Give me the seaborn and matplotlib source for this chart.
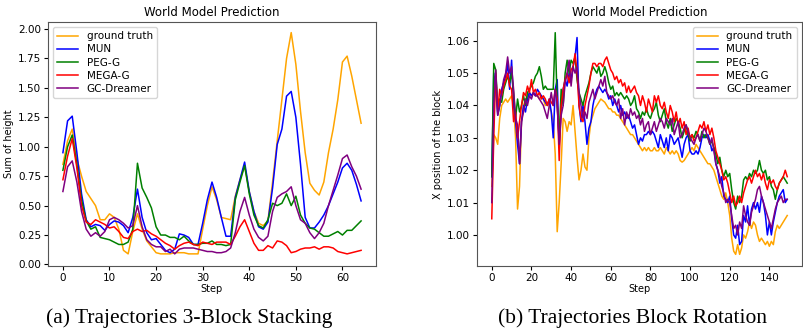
import numpy as np
import pandas as pd
import seaborn as sns
import matplotlib.pyplot as plt

names = ["ground truth", "MUN", "PEG-G", "MEGA-G", "GC-Dreamer"]
colors = ["orange", "blue", "green", "red", "purple"]

# (a) 3-block stacking, steps 0..64
stack_gt = [0.85, 1.05, 1.15, 0.90, 0.75, 0.62, 0.56, 0.50, 0.38, 0.38,
            0.43, 0.40, 0.30, 0.12, 0.09, 0.28, 0.43, 0.30, 0.20, 0.15,
            0.10, 0.09, 0.09, 0.09, 0.10, 0.10, 0.10, 0.09, 0.09, 0.09,
            0.30, 0.50, 0.66, 0.55, 0.40, 0.39, 0.38, 0.58, 0.72, 0.84,
            0.62, 0.45, 0.35, 0.33, 0.37, 0.70, 1.05, 1.40, 1.75, 1.97,
            1.70, 1.30, 0.95, 0.69, 0.63, 0.59, 0.70, 0.95, 1.15, 1.40,
            1.72, 1.77, 1.60, 1.40, 1.20]
stack_mun = [0.95, 1.22, 1.26, 0.95, 0.60, 0.38, 0.32, 0.34, 0.33, 0.29,
             0.34, 0.37, 0.36, 0.33, 0.27, 0.40, 0.64, 0.40, 0.27, 0.21,
             0.22, 0.17, 0.12, 0.10, 0.13, 0.26, 0.25, 0.23, 0.17, 0.17,
             0.35, 0.55, 0.70, 0.57, 0.40, 0.24, 0.24, 0.57, 0.72, 0.87,
             0.62, 0.45, 0.32, 0.30, 0.36, 0.65, 1.02, 1.15, 1.43, 1.47,
             1.25, 0.85, 0.40, 0.31, 0.31, 0.36, 0.42, 0.50, 0.60, 0.70,
             0.82, 0.86, 0.80, 0.68, 0.54]
stack_peg = [0.80, 1.00, 1.10, 0.85, 0.55, 0.37, 0.30, 0.32, 0.23, 0.22,
             0.21, 0.19, 0.17, 0.17, 0.19, 0.30, 0.86, 0.65, 0.57, 0.48,
             0.32, 0.25, 0.25, 0.23, 0.23, 0.21, 0.24, 0.20, 0.17, 0.17,
             0.18, 0.18, 0.20, 0.17, 0.17, 0.16, 0.17, 0.55, 0.70, 0.84,
             0.60, 0.42, 0.33, 0.31, 0.38, 0.52, 0.50, 0.52, 0.60, 0.50,
             0.58, 0.42, 0.35, 0.31, 0.30, 0.27, 0.24, 0.24, 0.26, 0.28,
             0.25, 0.29, 0.29, 0.33, 0.37]
stack_mega = [0.72, 0.92, 1.07, 0.82, 0.50, 0.36, 0.34, 0.38, 0.36, 0.34,
              0.31, 0.32, 0.28, 0.23, 0.22, 0.28, 0.30, 0.28, 0.29, 0.26,
              0.24, 0.21, 0.18, 0.16, 0.13, 0.16, 0.18, 0.19, 0.17, 0.16,
              0.19, 0.18, 0.17, 0.19, 0.19, 0.19, 0.17, 0.24, 0.32, 0.38,
              0.28, 0.18, 0.12, 0.12, 0.16, 0.14, 0.20, 0.19, 0.16, 0.10,
              0.11, 0.13, 0.14, 0.14, 0.15, 0.13, 0.15, 0.15, 0.14, 0.11,
              0.10, 0.09, 0.10, 0.11, 0.12]
stack_gcd = [0.62, 0.83, 0.88, 0.70, 0.45, 0.30, 0.24, 0.27, 0.24, 0.28,
             0.38, 0.40, 0.38, 0.35, 0.31, 0.33, 0.50, 0.32, 0.21, 0.17,
             0.15, 0.15, 0.11, 0.13, 0.09, 0.13, 0.14, 0.14, 0.14, 0.13,
             0.12, 0.11, 0.11, 0.10, 0.10, 0.11, 0.14, 0.27, 0.45, 0.57,
             0.42, 0.30, 0.23, 0.20, 0.24, 0.45, 0.57, 0.60, 0.62, 0.66,
             0.50, 0.38, 0.35, 0.27, 0.22, 0.27, 0.35, 0.50, 0.63, 0.76,
             0.90, 0.93, 0.83, 0.75, 0.64]

# (b) block rotation, steps 0..149
rot_gt = [1.015, 1.031, 1.030, 1.028, 1.036, 1.040, 1.041, 1.042, 1.041, 1.042,
          1.043, 1.040, 1.030, 1.008, 1.015, 1.035, 1.040, 1.042, 1.043, 1.044,
          1.043, 1.044, 1.043, 1.043, 1.042, 1.043, 1.042, 1.040, 1.041, 1.040,
          1.038, 1.035, 1.025, 1.001, 1.010, 1.022, 1.036, 1.035, 1.032, 1.035,
          1.034, 1.040, 1.032, 1.024, 1.017, 1.020, 1.025, 1.021, 1.020, 1.030,
          1.035, 1.037, 1.039, 1.040, 1.041, 1.042, 1.0415, 1.041, 1.040, 1.039,
          1.039, 1.038, 1.038, 1.037, 1.037, 1.036, 1.035, 1.034, 1.033, 1.032,
          1.031, 1.031, 1.030, 1.029, 1.028, 1.027, 1.026, 1.027, 1.026, 1.027,
          1.026, 1.026, 1.027, 1.026, 1.026, 1.027, 1.026, 1.025, 1.027, 1.026,
          1.025, 1.026, 1.025, 1.026, 1.025, 1.023, 1.0225, 1.023, 1.024, 1.025,
          1.026, 1.027, 1.026, 1.028, 1.027, 1.026, 1.025, 1.024, 1.023, 1.022,
          1.022, 1.021, 1.020, 1.018, 1.016, 1.014, 1.012, 1.011, 1.013, 1.010,
          1.006, 0.999, 0.995, 0.994, 0.997, 0.994, 0.996, 1.000, 0.999, 1.001,
          1.004, 1.002, 1.004, 1.003, 1.000, 0.998, 0.999, 0.998, 0.997, 0.998,
          0.9965, 0.998, 0.997, 1.001, 1.003, 1.002, 1.003, 1.004, 1.005, 1.006]
rot_mun = [1.018, 1.050, 1.045, 1.037, 1.040, 1.045, 1.047, 1.049, 1.053, 1.045,
           1.054, 1.040, 1.035, 1.028, 1.022, 1.035, 1.040, 1.038, 1.042, 1.044,
           1.043, 1.044, 1.043, 1.045, 1.044, 1.043, 1.042, 1.041, 1.040, 1.042,
           1.038, 1.030, 1.045, 1.048, 1.027, 1.040, 1.045, 1.048, 1.046, 1.050,
           1.048, 1.052, 1.055, 1.061, 1.040, 1.035, 1.040, 1.035, 1.028, 1.033,
           1.035, 1.040, 1.043, 1.045, 1.046, 1.045, 1.044, 1.045, 1.044, 1.042,
           1.043, 1.040, 1.042, 1.040, 1.038, 1.040, 1.037, 1.038, 1.036, 1.037,
           1.035, 1.033, 1.034, 1.031, 1.028, 1.030, 1.029, 1.031, 1.031, 1.032,
           1.031, 1.032, 1.031, 1.029, 1.027, 1.031, 1.029, 1.027, 1.030, 1.026,
           1.031, 1.030, 1.028, 1.029, 1.030, 1.027, 1.024, 1.028, 1.030, 1.031,
           1.026, 1.025, 1.025, 1.026, 1.025, 1.027, 1.030, 1.031, 1.030, 1.031,
           1.029, 1.026, 1.027, 1.022, 1.020, 1.016, 1.018, 1.012, 1.011, 1.010,
           1.012, 1.005, 1.000, 0.999, 1.003, 0.997, 0.998, 1.006, 1.004, 1.009,
           1.003, 1.008, 1.010, 1.008, 1.010, 1.007, 1.012, 1.010, 1.006, 1.000,
           1.004, 1.000, 1.004, 1.007, 1.010, 1.012, 1.013, 1.014, 1.010, 1.011]
rot_peg = [1.018, 1.053, 1.051, 1.040, 1.042, 1.041, 1.045, 1.047, 1.049, 1.047,
           1.050, 1.044, 1.036, 1.042, 1.038, 1.040, 1.043, 1.040, 1.044, 1.045,
           1.046, 1.047, 1.049, 1.050, 1.052, 1.049, 1.045, 1.046, 1.045, 1.045,
           1.045, 1.045, 1.0625, 1.040, 1.030, 1.045, 1.040, 1.050, 1.054, 1.050,
           1.054, 1.053, 1.055, 1.048, 1.044, 1.042, 1.040, 1.043, 1.045, 1.047,
           1.050, 1.052, 1.051, 1.050, 1.052, 1.049, 1.050, 1.052, 1.050, 1.047,
           1.045, 1.046, 1.043, 1.044, 1.043, 1.044, 1.043, 1.042, 1.043, 1.042,
           1.040, 1.041, 1.043, 1.039, 1.038, 1.036, 1.038, 1.037, 1.039, 1.037,
           1.036, 1.038, 1.039, 1.041, 1.037, 1.035, 1.037, 1.039, 1.035, 1.033,
           1.036, 1.032, 1.034, 1.036, 1.035, 1.033, 1.030, 1.032, 1.034, 1.031,
           1.029, 1.031, 1.030, 1.032, 1.031, 1.029, 1.032, 1.030, 1.031, 1.030,
           1.028, 1.029, 1.027, 1.025, 1.022, 1.024, 1.020, 1.018, 1.020, 1.018,
           1.019, 1.014, 1.010, 1.008, 1.012, 1.010, 1.012, 1.017, 1.018, 1.017,
           1.019, 1.018, 1.020, 1.019, 1.020, 1.023, 1.020, 1.019, 1.020, 1.017,
           1.018, 1.015, 1.014, 1.011, 1.014, 1.016, 1.017, 1.018, 1.017, 1.016]
rot_mega = [1.005, 1.030, 1.050, 1.038, 1.045, 1.043, 1.046, 1.048, 1.050, 1.046,
            1.045, 1.035, 1.038, 1.030, 1.035, 1.040, 1.044, 1.043, 1.046, 1.044,
            1.048, 1.044, 1.045, 1.043, 1.044, 1.042, 1.043, 1.042, 1.040, 1.042,
            1.041, 1.040, 1.045, 1.042, 1.023, 1.040, 1.045, 1.048, 1.050, 1.047,
            1.051, 1.052, 1.056, 1.050, 1.040, 1.036, 1.035, 1.040, 1.043, 1.046,
            1.050, 1.053, 1.053, 1.052, 1.053, 1.053, 1.052, 1.054, 1.055, 1.053,
            1.051, 1.050, 1.048, 1.049, 1.047, 1.048, 1.046, 1.047, 1.044, 1.046,
            1.044, 1.045, 1.046, 1.044, 1.043, 1.040, 1.043, 1.041, 1.038, 1.042,
            1.040, 1.038, 1.043, 1.041, 1.043, 1.040, 1.039, 1.041, 1.038, 1.036,
            1.040, 1.038, 1.035, 1.038, 1.034, 1.036, 1.033, 1.035, 1.031, 1.033,
            1.030, 1.031, 1.029, 1.030, 1.032, 1.034, 1.033, 1.035, 1.032, 1.034,
            1.031, 1.033, 1.030, 1.026, 1.024, 1.022, 1.020, 1.017, 1.018, 1.016,
            1.013, 1.010, 1.012, 1.009, 1.010, 1.012, 1.010, 1.013, 1.015, 1.017,
            1.018, 1.016, 1.018, 1.020, 1.018, 1.019, 1.017, 1.019, 1.016, 1.014,
            1.017, 1.016, 1.017, 1.015, 1.014, 1.016, 1.017, 1.018, 1.020, 1.018]
rot_gcd = [1.010, 1.040, 1.051, 1.037, 1.040, 1.044, 1.048, 1.050, 1.055, 1.050,
           1.052, 1.045, 1.036, 1.034, 1.022, 1.035, 1.038, 1.042, 1.040, 1.043,
           1.042, 1.044, 1.043, 1.043, 1.042, 1.041, 1.040, 1.038, 1.036, 1.040,
           1.044, 1.040, 1.045, 1.040, 1.028, 1.037, 1.040, 1.047, 1.050, 1.054,
           1.046, 1.052, 1.050, 1.052, 1.044, 1.040, 1.036, 1.038, 1.036, 1.041,
           1.043, 1.045, 1.042, 1.044, 1.046, 1.048, 1.046, 1.049, 1.044, 1.043,
           1.042, 1.043, 1.041, 1.040, 1.042, 1.036, 1.039, 1.034, 1.038, 1.036,
           1.039, 1.037, 1.038, 1.036, 1.037, 1.034, 1.036, 1.032, 1.034, 1.035,
           1.031, 1.033, 1.035, 1.032, 1.034, 1.036, 1.035, 1.033, 1.036, 1.035,
           1.034, 1.036, 1.031, 1.033, 1.035, 1.030, 1.031, 1.033, 1.034, 1.032,
           1.030, 1.029, 1.028, 1.030, 1.031, 1.029, 1.031, 1.033, 1.032, 1.030,
           1.028, 1.030, 1.026, 1.022, 1.020, 1.018, 1.015, 1.013, 1.010, 1.011,
           1.010, 1.006, 1.002, 1.003, 1.000, 1.004, 1.002, 1.009, 1.006, 1.004,
           1.003, 1.007, 1.009, 1.011, 1.014, 1.015, 1.012, 1.010, 1.008, 1.006,
           1.004, 1.002, 1.005, 1.008, 1.010, 1.011, 1.012, 1.010, 1.011, 1.011]

stack = pd.DataFrame(dict(zip(names, [stack_gt, stack_mun, stack_peg, stack_mega, stack_gcd])))
stack["Step"] = np.arange(len(stack))
rot = pd.DataFrame(dict(zip(names, [rot_gt, rot_mun, rot_peg, rot_mega, rot_gcd])))
rot["Step"] = np.arange(len(rot))

plt.rcParams["font.family"] = "DejaVu Sans"
fig = plt.figure(figsize=(8.04, 3.35), dpi=100)
ax1 = fig.add_axes([48/804, 69/335, 328/804, 244/335])
ax2 = fig.add_axes([477/804, 69/335, 325/804, 244/335])

for ax, df, ylab in [(ax1, stack, "Sum of height"), (ax2, rot, "X position of the block")]:
    for n, c in zip(names, colors):
        sns.lineplot(data=df, x="Step", y=n, color=c, label=n, ax=ax, linewidth=1.1)
    ax.set_title("World Model Prediction", fontsize=8.5, pad=4)
    ax.set_xlabel("Step", fontsize=7, labelpad=1)
    ax.set_ylabel(ylab, fontsize=7, labelpad=3)
    ax.tick_params(labelsize=7.5, length=3, pad=2)
    for s in ax.spines.values():
        s.set_color("#555555")

ax1.set_ylim(-0.013, 2.06)
ax1.set_xticks([0, 10, 20, 30, 40, 50, 60])
ax1.legend(loc="upper left", fontsize=7.5, handlelength=2, labelspacing=0.3, borderpad=0.4)
ax2.set_ylim(0.9904, 1.0658)
ax2.set_xticks([0, 20, 40, 60, 80, 100, 120, 140])
ax2.legend(loc="upper right", fontsize=7.5, handlelength=2, labelspacing=0.3, borderpad=0.4)

fig.text(189/804, 1 - 318/335, "(a) Trajectories 3-Block Stacking", ha="center", va="center",
         family="Liberation Serif", fontsize=15.5)
fig.text(633/804, 1 - 318/335, "(b) Trajectories Block Rotation", ha="center", va="center",
         family="Liberation Serif", fontsize=15.5)

fig.savefig("out.png", dpi=100)
